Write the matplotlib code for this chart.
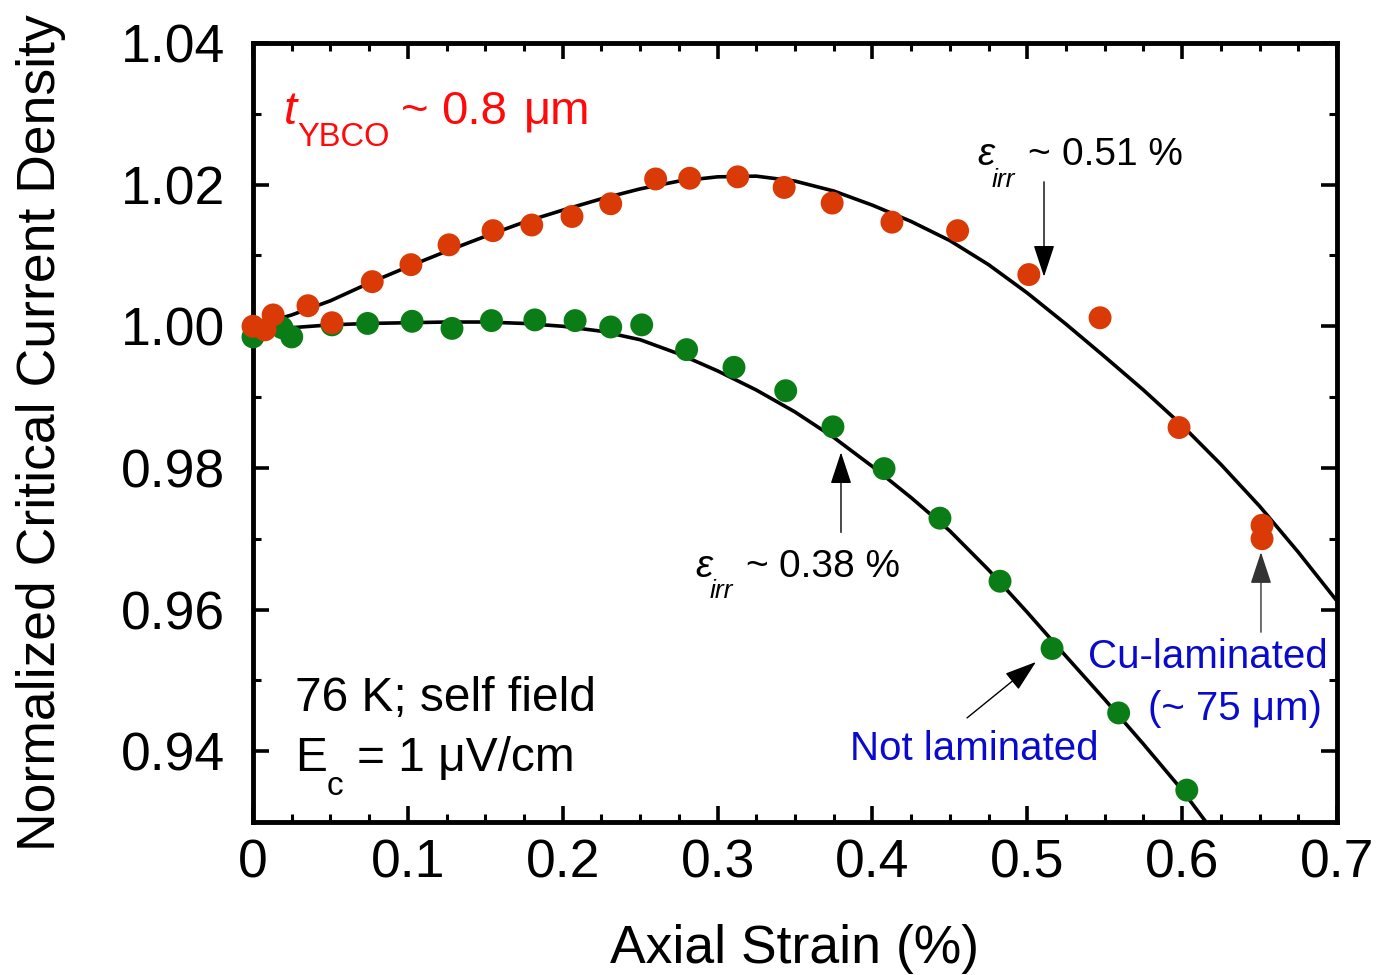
import numpy as np
import matplotlib
matplotlib.use("Agg")
import matplotlib.pyplot as plt
from matplotlib.ticker import MultipleLocator, FuncFormatter

plt.rcParams['font.family'] = ['Liberation Sans', 'DejaVu Sans']

# ---------------- data ----------------
cu_x = [0, 0.0077, 0.013, 0.0355, 0.051, 0.077, 0.102, 0.1266, 0.155, 0.180,
        0.206, 0.231, 0.260, 0.282, 0.313, 0.343, 0.374, 0.4126, 0.455, 0.501,
        0.547, 0.598, 0.6516, 0.6516]
cu_y = [1.0000, 0.9995, 1.0016, 1.0029, 1.0005, 1.0063, 1.0087, 1.0115, 1.0135, 1.0143,
        1.0155, 1.0173, 1.0208, 1.0209, 1.0211, 1.0196, 1.0174, 1.0147, 1.0135, 1.0073,
        1.0012, 0.9857, 0.9719, 0.9700]

nl_x = [0, 0.0187, 0.025, 0.051, 0.074, 0.1027, 0.1285, 0.154, 0.182, 0.208,
        0.231, 0.251, 0.280, 0.3106, 0.344, 0.3745, 0.4075, 0.4436, 0.4824, 0.516,
        0.559, 0.603]
nl_y = [0.9985, 0.9998, 0.9985, 1.0002, 1.0004, 1.0007, 0.9997, 1.0008, 1.0009, 1.0008,
        0.9999, 1.0002, 0.9967, 0.9942, 0.9909, 0.9858, 0.9799, 0.9729, 0.9640, 0.9545,
        0.9454, 0.9345]

# fitted curves
cu_fit_x = [0, 0.025, 0.05, 0.075, 0.1, 0.125, 0.15, 0.175, 0.2, 0.225, 0.25, 0.275,
            0.3, 0.325, 0.35, 0.375, 0.4, 0.425, 0.45, 0.475, 0.5, 0.525, 0.55, 0.575,
            0.6, 0.625, 0.65, 0.675, 0.7]
cu_fit_y = [1.0000, 1.0016, 1.0036, 1.0061, 1.0084, 1.0106, 1.0127, 1.0147, 1.0164,
            1.0180, 1.0194, 1.0205, 1.0211, 1.0212, 1.0205, 1.0191, 1.0171, 1.0148,
            1.0121, 1.0087, 1.0047, 1.0003, 0.9957, 0.9910, 0.9860, 0.9805, 0.9746,
            0.9681, 0.9612]

nl_fit_x = [0, 0.025, 0.05, 0.075, 0.1, 0.125, 0.15, 0.175, 0.2, 0.225, 0.25, 0.275,
            0.3, 0.325, 0.35, 0.375, 0.4, 0.425, 0.45, 0.475, 0.5, 0.525, 0.55, 0.575,
            0.6, 0.625]
nl_fit_y = [0.9991, 0.9998, 1.0002, 1.0004, 1.0005, 1.0006, 1.0006, 1.0004, 1.0000,
            0.9993, 0.9981, 0.9961, 0.9937, 0.9910, 0.9879, 0.9843, 0.9802, 0.9758,
            0.9711, 0.9656, 0.9596, 0.9534, 0.9473, 0.9410, 0.9345, 0.9272]

x_ticks = [0, 0.1, 0.2, 0.3, 0.4, 0.5, 0.6, 0.7]
y_ticks = [0.94, 0.96, 0.98, 1.00, 1.02, 1.04]

RED = '#D93A06'
GREEN = '#0A7D17'
BLUE = '#0A0ACD'
TXTRED = '#FF0A0A'

W, H = 1378, 975
fig = plt.figure(figsize=(W / 100, H / 100), dpi=100)
ax = fig.add_axes([253 / W, 1 - 822 / H, (1337 - 253) / W, (822 - 43) / H])

ax.plot(cu_fit_x, cu_fit_y, color='black', lw=2.6, zorder=2, solid_joinstyle='round')
ax.plot(nl_fit_x, nl_fit_y, color='black', lw=2.6, zorder=2, solid_joinstyle='round')
ax.scatter(nl_x, nl_y, s=16.5 ** 2, color=GREEN, edgecolors='none', zorder=3, clip_on=False)
ax.scatter(cu_x, cu_y, s=16.5 ** 2, color=RED, edgecolors='none', zorder=4, clip_on=False)

ax.set_xlim(0, 0.7)
ax.set_ylim(0.93, 1.04)
ax.set_xticks(x_ticks)
ax.set_yticks(y_ticks)
ax.xaxis.set_minor_locator(MultipleLocator(0.025))
ax.yaxis.set_minor_locator(MultipleLocator(0.01))
ax.xaxis.set_major_formatter(FuncFormatter(lambda v, p: '0' if abs(v) < 1e-9 else f'{v:.1f}'))
ax.yaxis.set_major_formatter(FuncFormatter(lambda v, p: f'{v:.2f}'))

for s in ax.spines.values():
    s.set_linewidth(3.5)
ax.tick_params(which='both', direction='in', top=True, right=True, labelsize=38.5)
ax.tick_params(which='major', length=11.5, width=2.6)
ax.tick_params(which='minor', length=6, width=2.2)
ax.tick_params(axis='x', which='major', pad=12)
ax.tick_params(axis='y', which='major', pad=20)

ax.set_xlabel('Axial Strain (%)', fontsize=38.5, va='baseline')
ax.xaxis.set_label_coords(0.5, (822 - 963) / 779)
ax.set_ylabel('Normalized Critical Current Density', fontsize=38.5, va='baseline')
ax.yaxis.set_label_coords((55 - 253) / 1084, 0.5)


def ptext(xp, yp, s, **kw):
    """Place text with its baseline at pixel position (xp, yp) measured from top-left."""
    kw.setdefault('va', 'baseline')
    kw.setdefault('ha', 'left')
    return fig.text(xp / W, 1 - yp / H, s, **kw)


# t_YBCO ~ 0.8 um
ptext(284, 124, 't', fontsize=34, style='italic', color=TXTRED)
ptext(297, 146, 'YBCO', fontsize=23.5, color=TXTRED)
ptext(401, 124, '~', fontsize=34, color=TXTRED)
ptext(441, 124, '0.8', fontsize=34, color=TXTRED)
ptext(524, 124, '\u03bcm', fontsize=34, color=TXTRED)

# eps_irr ~ 0.51 %
ptext(977, 165, '\u03b5', fontsize=28, style='italic', color='black')
ptext(992, 187, 'irr', fontsize=19, style='italic', color='black')
ptext(1027, 165, '~', fontsize=28, color='black')
ptext(1062, 165, '0.51 %', fontsize=28, color='black')

# eps_irr ~ 0.38 %
ptext(695, 577, '\u03b5', fontsize=28, style='italic', color='black')
ptext(710, 598, 'irr', fontsize=19, style='italic', color='black')
ptext(745, 577, '~', fontsize=28, color='black')
ptext(779, 577, '0.38 %', fontsize=28, color='black')

# conditions
ptext(295, 711, '76 K; self field', fontsize=34.5, color='black')
ptext(295, 771, 'E', fontsize=34.5, color='black')
ptext(327, 795, 'c', fontsize=24, color='black')
ptext(357, 771, '= 1 \u03bcV/cm', fontsize=34.5, color='black')

# sample labels
ptext(850, 760, 'Not laminated', fontsize=29, color=BLUE)
ptext(1328, 668, 'Cu-laminated', fontsize=29, color=BLUE, ha='right')
ptext(1322, 720, '(~ 75 \u03bcm)', fontsize=29, color=BLUE, ha='right')

# arrows (data coordinates)
arrow_kw = dict(arrowstyle='-|>,head_length=1.0,head_width=0.33', color='black',
                lw=1.0, shrinkA=0, shrinkB=0, mutation_scale=20)
ax.annotate('', xy=(0.5108, 1.0070), xytext=(0.5108, 1.0204), arrowprops=arrow_kw)
ax.annotate('', xy=(0.3797, 0.9822), xytext=(0.3797, 0.9709), arrowprops=arrow_kw)
ax.annotate('', xy=(0.6509, 0.9681), xytext=(0.6509, 0.9568),
            arrowprops=dict(arrow_kw, color='#333333'))
ax.annotate('', xy=(0.5056, 0.9526), xytext=(0.4611, 0.9447), arrowprops=arrow_kw)

fig.savefig('out.png', dpi=100)
